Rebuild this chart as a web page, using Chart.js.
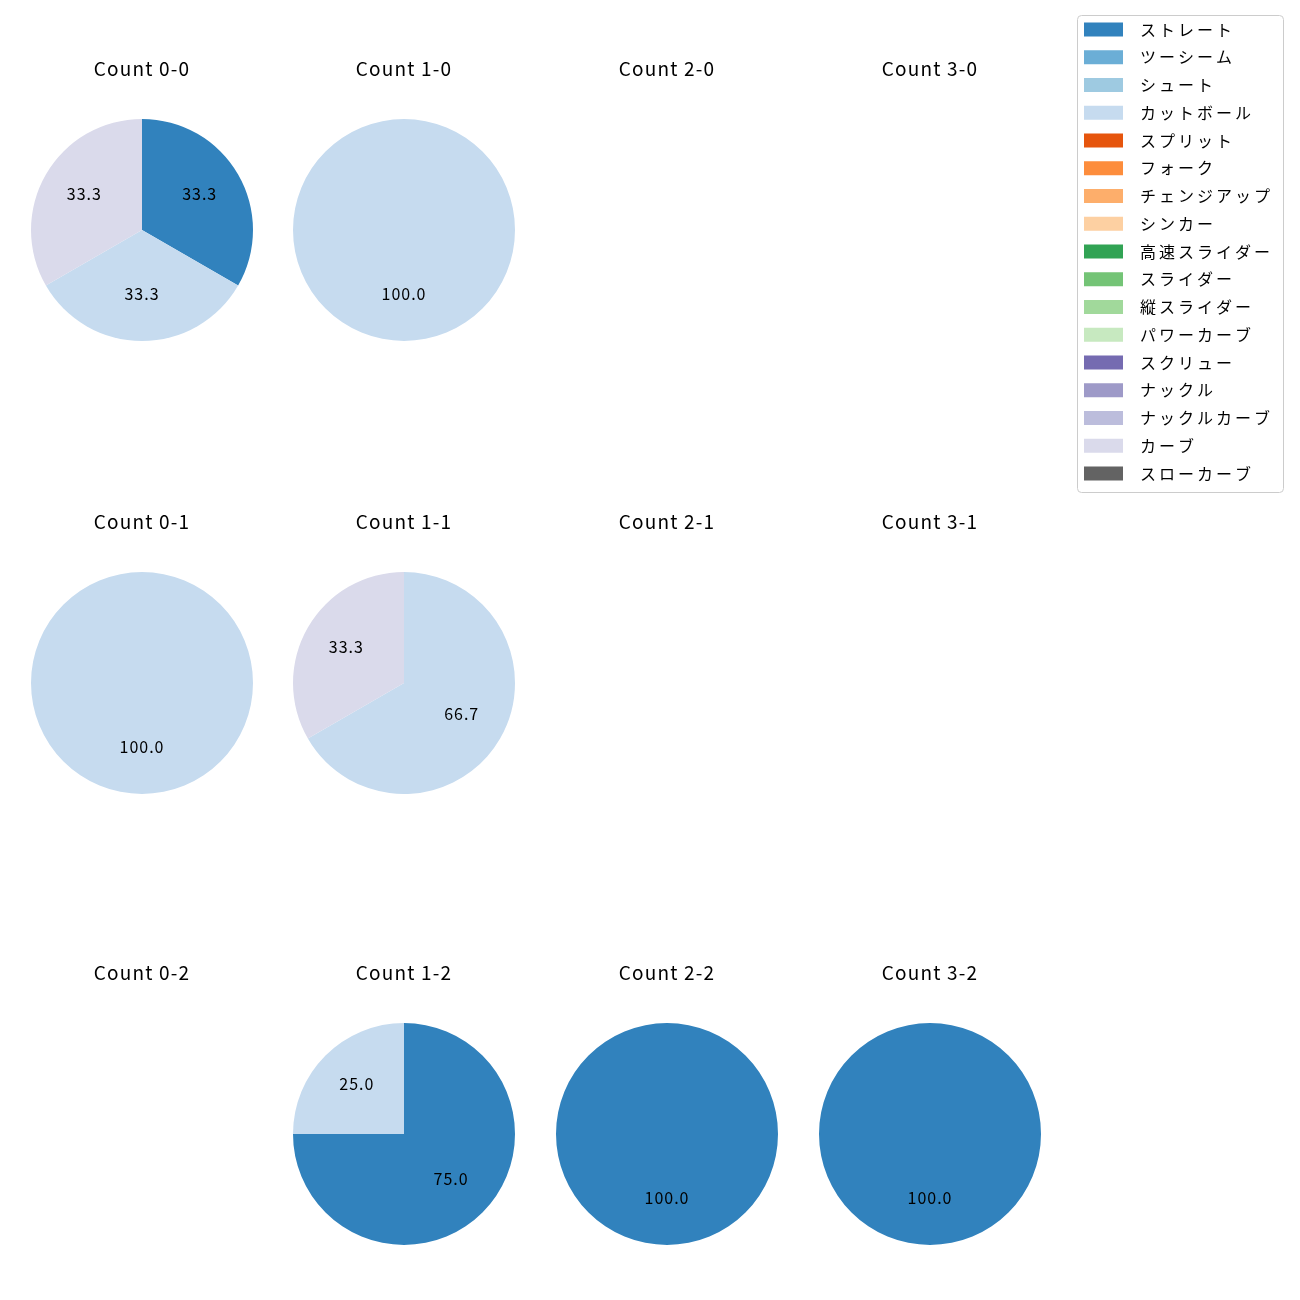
<!DOCTYPE html>
<html>
<head>
<meta charset="utf-8">
<script src="https://cdn.jsdelivr.net/npm/chart.js@4.4.1/dist/chart.umd.min.js"></script>
<style>
  html, body { margin: 0; padding: 0; background: #ffffff; }
  #wrap { position: relative; width: 1300px; height: 1300px; background: #fff; }
  .cell { position: absolute; }
</style>
</head>
<body>
<div id="wrap"></div>
<script>
// ---- data ----
const pitchTypes = ['ストレート','ツーシーム','シュート','カットボール','スプリット','フォーク','チェンジアップ','シンカー','高速スライダー','スライダー','縦スライダー','パワーカーブ','スクリュー','ナックル','ナックルカーブ','カーブ','スローカーブ'];
const pitchColors = ['#3182bd','#6baed6','#9ecae1','#c6dbef','#e6550d','#fd8d3c','#fdae6b','#fdd0a2','#31a354','#74c476','#a1d99b','#c7e9c0','#756bb1','#9e9ac8','#bcbddc','#dadaeb','#636363'];
const countLabels = ['Count 0-0','Count 1-0','Count 2-0','Count 3-0','Count 0-1','Count 1-1','Count 2-1','Count 3-1','Count 0-2','Count 1-2','Count 2-2','Count 3-2'];
//                 St Tw Sh Cu Sp Fo Ch Si HS Sl VS PC Sc Kn KC Cv SC
const count00 = [1, 0, 0, 1, 0, 0, 0, 0, 0, 0, 0, 0, 0, 0, 0, 1, 0];
const count10 = [0, 0, 0, 1, 0, 0, 0, 0, 0, 0, 0, 0, 0, 0, 0, 0, 0];
const count20 = [0, 0, 0, 0, 0, 0, 0, 0, 0, 0, 0, 0, 0, 0, 0, 0, 0];
const count30 = [0, 0, 0, 0, 0, 0, 0, 0, 0, 0, 0, 0, 0, 0, 0, 0, 0];
const count01 = [0, 0, 0, 1, 0, 0, 0, 0, 0, 0, 0, 0, 0, 0, 0, 0, 0];
const count11 = [0, 0, 0, 2, 0, 0, 0, 0, 0, 0, 0, 0, 0, 0, 0, 1, 0];
const count21 = [0, 0, 0, 0, 0, 0, 0, 0, 0, 0, 0, 0, 0, 0, 0, 0, 0];
const count31 = [0, 0, 0, 0, 0, 0, 0, 0, 0, 0, 0, 0, 0, 0, 0, 0, 0];
const count02 = [0, 0, 0, 0, 0, 0, 0, 0, 0, 0, 0, 0, 0, 0, 0, 0, 0];
const count12 = [3, 0, 0, 1, 0, 0, 0, 0, 0, 0, 0, 0, 0, 0, 0, 0, 0];
const count22 = [1, 0, 0, 0, 0, 0, 0, 0, 0, 0, 0, 0, 0, 0, 0, 0, 0];
const count32 = [1, 0, 0, 0, 0, 0, 0, 0, 0, 0, 0, 0, 0, 0, 0, 0, 0];
const countValues = [count00,count10,count20,count30,count01,count11,count21,count31,count02,count12,count22,count32];

// ---- layout ----
const FONT = '"Noto Sans CJK JP", "Noto Sans", sans-serif';
const colCenters = [141.5, 404, 667, 930];
const rowCenters = [230, 682.5, 1134];
const R = 111;

const spacingPlugin = {
  id: 'titleSpacing',
  beforeDraw(chart) { if ('letterSpacing' in chart.ctx) chart.ctx.letterSpacing = '1.2px'; }
};

const pctLabelPlugin = {
  id: 'pctLabels',
  afterDatasetsDraw(chart) {
    const ds = chart.data.datasets[0];
    if (!ds) return;
    const vals = ds.data;
    const total = vals.reduce((a, b) => a + b, 0);
    if (!total) return;
    const meta = chart.getDatasetMeta(0);
    const ctx = chart.ctx;
    ctx.save();
    ctx.font = '16px ' + FONT;
    if ('letterSpacing' in ctx) ctx.letterSpacing = '1px';
    ctx.fillStyle = '#000';
    ctx.textAlign = 'center';
    ctx.textBaseline = 'middle';
    meta.data.forEach((arc, i) => {
      if (!vals[i]) return;
      const p = arc.getProps(['x','y','startAngle','endAngle','outerRadius'], true);
      const mid = (p.startAngle + p.endAngle) / 2;
      const r = p.outerRadius * 0.6;
      ctx.fillText((vals[i] / total * 100).toFixed(1), p.x + Math.cos(mid) * r, p.y + Math.sin(mid) * r - 2.5);
    });
    ctx.restore();
  }
};

const wrap = document.getElementById('wrap');
countLabels.forEach((title, k) => {
  const c = k % 4, r = Math.floor(k / 4);
  const div = document.createElement('div');
  div.className = 'cell';
  div.style.left = (colCenters[c] - 131) + 'px';
  div.style.top = (rowCenters[r] - R - 60) + 'px';
  div.style.width = '262px';
  div.style.height = '282px';
  const cv = document.createElement('canvas');
  div.appendChild(cv);
  wrap.appendChild(div);
  const vals = countValues[k];
  const hasData = vals.some(v => v > 0);
  new Chart(cv, {
    type: 'pie',
    data: {
      labels: pitchTypes,
      datasets: hasData ? [{ data: vals, backgroundColor: pitchColors, borderWidth: 0 }] : []
    },
    options: {
      responsive: true,
      maintainAspectRatio: false,
      animation: false,
      layout: { padding: 0 },
      plugins: {
        legend: { display: false },
        tooltip: { enabled: false },
        title: {
          display: true,
          text: title,
          color: '#000',
          font: { family: FONT, size: 19, weight: 'normal', lineHeight: 20 / 19 },
          padding: { top: 0, bottom: 40 }
        }
      }
    },
    plugins: [spacingPlugin, pctLabelPlugin]
  });
});

// ---- legend ----
const legendPlugin = {
  id: 'boxLegend',
  afterDraw(chart) {
    const ctx = chart.ctx;
    const W = chart.width, H = chart.height;
    ctx.save();
    ctx.fillStyle = 'rgba(255,255,255,0.8)';
    ctx.strokeStyle = '#cccccc';
    ctx.lineWidth = 1;
    ctx.beginPath();
    ctx.roundRect(0.5, 0.5, W - 1, H - 1, 4);
    ctx.fill();
    ctx.stroke();
    ctx.font = '16px ' + FONT;
    ctx.textBaseline = 'middle';
    ctx.textAlign = 'left';
    if ('letterSpacing' in ctx) ctx.letterSpacing = '3px';
    const labels = chart.data.labels;
    const cols = chart.data.datasets[0].backgroundColor;
    labels.forEach((lab, i) => {
      const y = 14.5 + i * 27.75;
      ctx.fillStyle = cols[i];
      ctx.fillRect(7, y - 7, 39, 14);
      ctx.fillStyle = '#000';
      ctx.fillText(lab, 63, y);
    });
    ctx.restore();
  }
};
const ldiv = document.createElement('div');
ldiv.className = 'cell';
ldiv.style.left = '1077px';
ldiv.style.top = '15px';
ldiv.style.width = '207px';
ldiv.style.height = '478px';
const lcv = document.createElement('canvas');
ldiv.appendChild(lcv);
wrap.appendChild(ldiv);
new Chart(lcv, {
  type: 'pie',
  data: { labels: pitchTypes, datasets: [{ data: pitchTypes.map(() => 0), backgroundColor: pitchColors, borderWidth: 0 }] },
  options: {
    responsive: true, maintainAspectRatio: false, animation: false,
    plugins: { legend: { display: false }, tooltip: { enabled: false } }
  },
  plugins: [legendPlugin]
});
</script>
</body>
</html>
